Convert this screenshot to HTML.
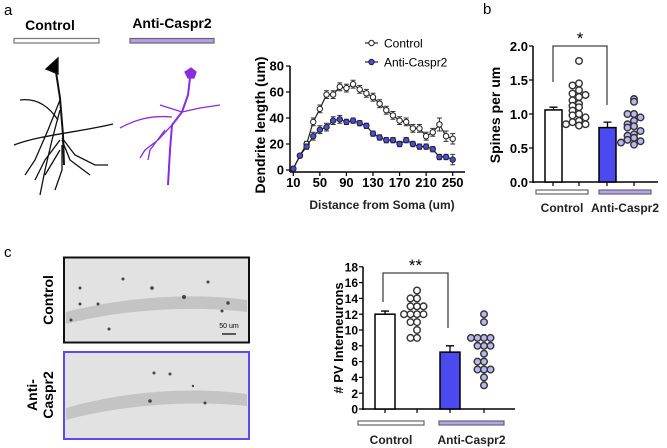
<!DOCTYPE html>
<html><head><meta charset="utf-8"><style>
body{margin:0;background:#fff;}
svg{display:block;font-family:"Liberation Sans",Arial,sans-serif;}
</style></head><body>
<svg id="fig" width="667" height="448" viewBox="0 0 667 448" xmlns="http://www.w3.org/2000/svg">
<text x="4" y="15" font-size="15">a</text>
<text x="50" y="30" font-size="14" font-weight="bold" text-anchor="middle">Control</text>
<rect x="14" y="38.5" width="85" height="4.5" fill="#fff" stroke="#777" stroke-width="1.2"/>
<text x="172" y="28" font-size="14" font-weight="bold" text-anchor="middle">Anti-Caspr2</text>
<rect x="130" y="38.5" width="84" height="4.5" fill="#b49ef0" stroke="#666" stroke-width="1.2"/>
<g fill="none" stroke="#111" stroke-width="1.3">
<polygon points="46,69 58,58 58,74" fill="#000"/>
<path d="M56,72 L60,98 L63,135 L64,165" stroke-width="2"/>
<path d="M20,100 C35,98 48,105 58,120 M60,100 L48,130 L35,160 L25,175 M60,110 L52,140 L45,170 L40,195 M14,145 C40,135 80,132 113,124 M62,138 L75,155 L95,165 L108,165 M62,140 L70,160 L90,175 M60,140 L45,160 L35,180 M62,145 L62,170 L55,190 M60,150 L45,175"/>
</g>
<g fill="none" stroke="#8a2be2" stroke-width="1.3">
<polygon points="185,72 191,68 196,72 194,78 188,78" fill="#8a2be2"/>
<path d="M190,78 L188,95 L182,112 L172,125 L170,150 L168,185" stroke-width="2"/>
<path d="M120,128 C135,120 150,115 172,117 M182,112 L200,108 L220,105 M182,112 L160,105 M172,125 L158,140 L145,150 L140,158 M165,130 L150,150 L148,160"/>
</g>
<text x="4" y="257" font-size="15">c</text>
<rect x="64" y="257.5" width="185" height="85" fill="#e2e2e2" stroke="#111" stroke-width="2"/>
<path d="M66,312 C120,298 190,292 247,300 L247,312 C190,305 120,310 66,324 Z" fill="#c4c4c4"/>
<g fill="#444"><circle cx="80" cy="288" r="1.5"/><circle cx="80" cy="304" r="1.5"/><circle cx="98" cy="304" r="1.5"/><circle cx="123" cy="279" r="1.5"/><circle cx="152" cy="288" r="1.8"/><circle cx="184" cy="297" r="2"/><circle cx="208" cy="282" r="1.5"/><circle cx="228" cy="303" r="1.7"/><circle cx="71" cy="320" r="1.5"/><circle cx="109" cy="329" r="1.5"/><circle cx="222" cy="311" r="1.5"/></g>
<line x1="222" y1="334" x2="236" y2="334" stroke="#000" stroke-width="1.2"/>
<text x="229" y="328" font-size="7" text-anchor="middle">50 um</text>
<rect x="64" y="352" width="185" height="87" fill="#e2e2e2" stroke="#5a4cf0" stroke-width="2"/>
<path d="M66,408 C120,392 190,386 247,394 L247,406 C190,400 120,405 66,420 Z" fill="#c4c4c4"/>
<g fill="#444"><circle cx="154" cy="373" r="1.5"/><circle cx="170" cy="374" r="1.5"/><circle cx="150" cy="401" r="1.8"/><circle cx="205" cy="403" r="1.5"/><circle cx="193" cy="386" r="1.2"/></g>
<text transform="translate(53,300) rotate(-90)" font-size="14" font-weight="bold" text-anchor="middle">Control</text>
<text transform="translate(37,395) rotate(-90)" font-size="14" font-weight="bold" text-anchor="middle">Anti-</text>
<text transform="translate(53,395) rotate(-90)" font-size="14" font-weight="bold" text-anchor="middle">Caspr2</text>
<text x="483" y="14" font-size="15">b</text>
<g id="line"></g><g id="spines"></g><g id="pv"></g>
</svg>
<script>
const NS="http://www.w3.org/2000/svg";
function mk(p,tag,a){const e=document.createElementNS(NS,tag);for(const k in a)e.setAttribute(k,a[k]);p.appendChild(e);return e;}
// ---- line chart data ----
const distances=[10,20,30,40,50,60,70,80,90,100,110,120,130,140,150,160,170,180,190,200,210,220,230,240,250];
const controlLen=[1,11,20,37,47,58,58,64,63,66,62,59,56,51,46,42,38,37,32,32,26,29,35,26,24];
const controlErr=[1,1,2,3,3,3,3,3,3,3,3,3,3,3,3,3,3,3,3,3,3,3,5,4,4];
const antiLen=[1,11,18,26,31,33,38,39,37,38,36,34,28,25,23,23,20,23,20,18,18,16,10,10,8];
const antiErr=[1,1,2,3,3,3,3,3,2,2,2,2,2,2,2,2,2,2,2,2,2,2,2,2,4];
const lineXTicks=[10,50,90,130,170,210,250];
const lineYTicks=[0,20,40,60,80];
// ---- spines ----
const groups=["Control","Anti-Caspr2"];
const spineMeans=[1.06,0.8];
const spineErrs=[0.04,0.08];
const spineCtrlPts=[1.78,1.45,1.42,1.35,1.3,1.28,1.25,1.2,1.15,1.12,1.1,1.05,1.0,0.98,0.95,0.9,0.88,0.85,0.85,0.83];
const spineAntiPts=[1.22,1.18,1.0,1.0,0.95,0.9,0.85,0.82,0.8,0.75,0.7,0.68,0.65,0.62,0.6,0.58,0.55];
const spineYTicks=[0,0.5,1.0,1.5,2.0];
// ---- PV ----
const pvMeans=[12,7.2];
const pvErrs=[0.4,0.8];
const pvCtrlPts=[15,14,14,13,13,13,12,12,12,12,11,11,10,9,9];
const pvAntiPts=[12,11,9,9,9,9,8,8,8,7,6,6,5,5,5,4,3];
const pvYTicks=[0,2,4,6,8,10,12,14,16,18];

// line chart
(function(){
 const g=document.getElementById('line');
 const x=v=>293.3+(v-10)*(159.4/240), y=v=>170-v*1.3;
 let e=mk(g,'line',{x1:290,y1:66,x2:290,y2:172,stroke:'#000','stroke-width':1.5});
 
 e=mk(g,'line',{x1:290,y1:172,x2:465,y2:172,stroke:'#000','stroke-width':1.5});
 
 lineYTicks.forEach(t=>{mk(g,'line',{x1:286,x2:290,y1:y(t),y2:y(t),stroke:'#000','stroke-width':1.2});
  const tx=mk(g,'text',{x:284,y:y(t)+4.5,'font-size':13,'font-weight':'bold','text-anchor':'end'});tx.textContent=t;
  });
 lineXTicks.forEach(t=>{mk(g,'line',{x1:x(t),x2:x(t),y1:172,y2:176,stroke:'#000','stroke-width':1.2});
  const tx=mk(g,'text',{x:x(t),y:187,'font-size':13,'font-weight':'bold','text-anchor':'middle'});tx.textContent=t;
  });
 let t=mk(g,'text',{x:382,y:209,'font-size':12,'font-weight':'bold','text-anchor':'middle',fill:'#222'});t.textContent='Distance from Soma (um)';
 
 t=mk(g,'text',{transform:'translate(265,125) rotate(-90)','font-size':14,'font-weight':'bold','text-anchor':'middle'});t.textContent='Dendrite length (um)';
 
 function series(vals,errs,fill,name){
  const pl=mk(g,'polyline',{points:vals.map((v,i)=>x(distances[i])+','+y(v)).join(' '),fill:'none',stroke:'#222','stroke-width':1.2});
  
  vals.forEach((v,i)=>{const cx=x(distances[i]);
   mk(g,'path',{d:`M${cx},${y(v-errs[i])}V${y(v+errs[i])}M${cx-2.5},${y(v+errs[i])}h5M${cx-2.5},${y(v-errs[i])}h5`,stroke:'#333','stroke-width':1});
   const c=mk(g,'circle',{cx:cx,cy:y(v),r:2.7,fill:fill,stroke:'#222','stroke-width':1});
   });
 }
 series(controlLen,controlErr,'#fff','control');
 series(antiLen,antiErr,'#4a4ae8','anti-caspr2');
 [['Control','#fff',43],['Anti-Caspr2','#4a4ae8',62]].forEach(([n,f,yy])=>{
  mk(g,'line',{x1:365,x2:378,y1:yy,y2:yy,stroke:'#222','stroke-width':1.2});
  const c=mk(g,'circle',{cx:371.5,cy:yy,r:2.7,fill:f,stroke:'#222'});
  
  const tx=mk(g,'text',{x:384,y:yy+4.5,'font-size':12});tx.textContent=n;
  });
})();

function barChart(id,o){
 const g=document.getElementById(id);
 const y=v=>o.y0-v*o.k;
 let e=mk(g,'line',{x1:o.ax,y1:y(o.ticks[o.ticks.length-1]),x2:o.ax,y2:o.y0+1,stroke:'#000','stroke-width':1.5});
 
 e=mk(g,'line',{x1:o.ax,y1:o.y0,x2:o.xe,y2:o.y0,stroke:'#000','stroke-width':1.5});
 
 o.ticks.forEach(t=>{mk(g,'line',{x1:o.ax-4,x2:o.ax,y1:y(t),y2:y(t),stroke:'#000','stroke-width':1.2});
  const tx=mk(g,'text',{x:o.ax-5,y:y(t)+o.fs/2.6,'font-size':o.fs,'font-weight':'bold','text-anchor':'end'});tx.textContent=o.fmt(t);
  });
 o.xt.forEach(xx=>mk(g,'line',{x1:xx,x2:xx,y1:o.y0,y2:o.y0+4,stroke:'#000','stroke-width':1.2}));
 const fills=['#fff','#4a4af0'];
 o.means.forEach((m,i)=>{const bx=o.bars[i];
  mk(g,'path',{d:`M${bx+o.bw/2},${y(m)}V${y(m+o.errs[i])}M${bx+o.bw/2-4},${y(m+o.errs[i])}h8`,stroke:'#000','stroke-width':1.3});
  const r=mk(g,'rect',{x:bx,y:y(m),width:o.bw,height:o.y0-y(m),fill:fills[i],stroke:'#000','stroke-width':1.5});
  });
 [[o.p1,'#fff'],[o.p2,'#b8b8f0']].forEach(([pts,f],gi)=>{
  const cx=o.dc[gi];const counts={};
  pts.forEach(v=>{const key=Math.round(v*o.k/6);const n=counts[key]=(counts[key]||0)+1;
   const off=n===1?0:(n%2?1:-1)*Math.floor(n/2)*6.5;
   const c=mk(g,'circle',{cx:cx+off,cy:y(v),r:3.3,fill:f,stroke:'#333','stroke-width':1.4});
   });});
 const b=o.br;
 e=mk(g,'path',{d:`M${b[0]},${b[3]}V${b[2]}H${b[1]}V${b[4]}`,fill:'none',stroke:'#444','stroke-width':1.3});
 
 let t=mk(g,'text',{x:(b[0]+b[1])/2,y:b[2]-2,'font-size':17,'text-anchor':'middle'});t.textContent=o.star;
 
 o.ul.forEach((u,i)=>{const r=mk(g,'rect',{x:u[0],y:u[2],width:u[1]-u[0],height:4,fill:i?'#b4a4f0':'#fff',stroke:'#666','stroke-width':1.2});
  
  const tx=mk(g,'text',{x:(u[0]+u[1])/2,y:o.ly,'font-size':12,'font-weight':'bold','text-anchor':'middle',fill:'#222'});tx.textContent=groups[i];
  });
 t=mk(g,'text',{transform:`translate(${o.tx},${o.ty}) rotate(-90)`,'font-size':o.tfs,'font-weight':'bold','text-anchor':'middle'});t.textContent=o.title;
 
}
barChart('spines',{ax:533,y0:182,k:68,xe:658,ticks:spineYTicks,fs:13,fmt:t=>t.toFixed(1),xt:[553,579,607,634],
 means:spineMeans,errs:spineErrs,bars:[545,599],bw:17,p1:spineCtrlPts,p2:spineAntiPts,dc:[579,634],
 br:[553,607,46,82,105],star:'*',ul:[[536,588,190],[599,651,190]],ly:212,tx:500,ty:115,tfs:14,title:'Spines per um'});
barChart('pv',{ax:363,y0:409,k:7.9,xe:515,ticks:pvYTicks,fs:12,fmt:t=>t,xt:[385,417,450,484],
 means:pvMeans,errs:pvErrs,bars:[375,440],bw:20,p1:pvCtrlPts,p2:pvAntiPts,dc:[417,484],
 br:[383,448,273,302,328],star:'**',ul:[[358,424,421],[439,504,421]],ly:444,tx:343,ty:338,tfs:13,title:'# PV Interneurons'});
</script>
</body></html>
